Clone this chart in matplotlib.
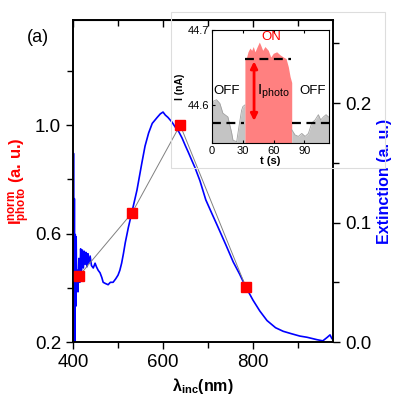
import matplotlib.pyplot as plt
from matplotlib.patches import Rectangle

plt.rcParams['font.family'] = 'Liberation Sans'
plt.rcParams['mathtext.fontset'] = 'custom'
plt.rcParams['mathtext.rm'] = 'Liberation Sans'
plt.rcParams['mathtext.bf'] = 'Liberation Sans:bold'

# extinction spectrum (right axis)
wl = [400, 401, 402, 403, 404, 405, 406, 407, 408, 410, 411, 413, 415, 417, 419,
      421, 423, 425, 427, 429, 431, 433, 435, 438, 441, 445, 449, 452, 456, 460,
      464, 467, 472, 478, 483, 489, 495, 500, 504, 508, 512, 516, 523, 531, 542,
      553, 560, 568, 576, 587, 594, 600, 605, 611, 620, 627, 635, 642, 650, 656,
      664, 671, 682, 695, 708, 720, 740, 756, 770, 784, 800, 815, 831, 850, 867,
      885, 904, 920, 942, 955, 965, 971, 975]
ext = [0.0, 0.158, 0.02, 0.12, 0.0, 0.09, 0.03, 0.088, 0.045, 0.06, 0.042, 0.07, 0.05, 0.078, 0.06,
       0.077, 0.062, 0.076, 0.065, 0.075, 0.063, 0.074, 0.066, 0.072, 0.064, 0.062, 0.066, 0.063, 0.060, 0.058,
       0.054, 0.050, 0.049, 0.048, 0.050, 0.050, 0.053, 0.056, 0.060, 0.066, 0.074, 0.083, 0.096, 0.109, 0.127,
       0.150, 0.164, 0.175, 0.183, 0.188, 0.191, 0.1925, 0.190, 0.188, 0.184, 0.180, 0.176, 0.171, 0.164, 0.159,
       0.152, 0.146, 0.135, 0.119, 0.108, 0.098, 0.081, 0.067, 0.057, 0.046, 0.035, 0.026, 0.018, 0.012, 0.009,
       0.007, 0.005, 0.004, 0.002, 0.001, 0.004, 0.006, 0.003]

# normalised photocurrent (left axis)
wl_pts = [413, 531, 638, 784]
iphoto = [0.443, 0.676, 1.0, 0.403]

# inset time trace
t_off1 = [0, 4.5, 7.8, 10.7, 15.6, 19.2, 20.5, 24.1, 26.3, 28.9, 30.2, 32.1]
i_off1 = [44.604, 44.607, 44.602, 44.589, 44.584, 44.563, 44.553, 44.551, 44.571, 44.593, 44.598, 44.600]
t_on = [32.1, 33.8, 35.1, 37, 38.7, 40.2, 41.9, 44.1, 46.1, 47.4, 49.4, 51.6, 54.8, 57.2,
        59.7, 63, 66.2, 69.4, 72.1, 74.3, 76, 77.6]
i_on = [44.662, 44.664, 44.671, 44.676, 44.673, 44.678, 44.671, 44.678, 44.684, 44.680, 44.673, 44.678,
        44.673, 44.664, 44.669, 44.671, 44.667, 44.664, 44.662, 44.651, 44.638, 44.630]
t_off2 = [77.6, 80.8, 84, 87.4, 90.6, 93.8, 97.1, 100.3, 103.5, 105.8, 108.4, 111, 113.3, 114]
i_off2 = [44.567, 44.560, 44.558, 44.562, 44.558, 44.562, 44.576, 44.580, 44.587, 44.580, 44.584, 44.587,
          44.584, 44.584]
level_off = 44.576
level_on = 44.661

fig = plt.figure(figsize=(3.99, 4.01), dpi=100)
ax = fig.add_axes([0.183, 0.147, 0.652, 0.803])
ax2 = ax.twinx()

ax2.plot(wl, ext, color='#0000ff', lw=1.2)
ax.plot(wl_pts, iphoto, color='gray', lw=0.7, zorder=3)
ax.plot(wl_pts, iphoto, 's', color='#ff0000', ms=7, zorder=4)
ax.set_zorder(ax2.get_zorder() + 1)
ax.patch.set_visible(False)

ax.set_xlim(400, 978)
ax.set_ylim(0.2, 1.387)
ax2.set_ylim(0, 0.2695)
ax.set_xticks([400, 600, 800])
ax.set_xticks([500, 700, 900], minor=True)
ax.set_yticks([0.2, 0.6, 1.0])
ax.set_yticks([0.4, 0.8, 1.2], minor=True)
ax2.set_yticks([0.0, 0.1, 0.2])
ax2.set_yticks([0.05, 0.15, 0.25], minor=True)
ax.set_yticklabels(['0.2', '0.6', '1.0'])
ax2.set_yticklabels(['0.0', '0.1', '0.2'])
ax.tick_params(axis='both', which='both', direction='out', labelsize=13.5, width=1)
ax.tick_params(which='major', length=5)
ax.tick_params(which='minor', length=4)
ax2.tick_params(axis='y', which='both', direction='out', labelsize=13.5, width=1)
ax2.tick_params(which='major', length=5)
ax2.tick_params(which='minor', length=4)
for a in (ax, ax2):
    for s in a.spines.values():
        s.set_linewidth(1.2)

# top axis ticks point inward
top = ax.secondary_xaxis('top')
top.set_xticks([400, 600, 800])
top.set_xticks([500, 700, 900], minor=True)
top.tick_params(which='both', direction='in', labeltop=False, width=1)
top.tick_params(which='major', length=5)
top.tick_params(which='minor', length=4)

ax.set_xlabel(r'$\mathbf{\lambda}_{\mathbf{inc}}$(nm)', fontsize=11.5, fontweight='bold', labelpad=4)
ax.set_ylabel(r'$\mathbf{I^{norm}_{photo}}$ (a. u.)', fontsize=12, fontweight='bold',
              color='#ff0000', labelpad=2)
ax2.set_ylabel('Extinction (a. u.)', fontsize=11.5, fontweight='bold', color='#0000ff', labelpad=4)
fig.text(0.068, 0.895, '(a)', fontsize=13)

# light frame around inset
fig.patches.append(Rectangle((171 / 399, 1 - 168 / 401), 214 / 399, 156 / 401,
                             transform=fig.transFigure, fill=False, ec='#dddddd', lw=0.8))

ins = fig.add_axes([0.531, 0.643, 0.294, 0.282])
ins.fill_between(t_off1, 44.54, i_off1, color='#c4c4c4', lw=0)
ins.plot(t_off1, i_off1, color='#a0a0a0', lw=0.6)
ins.fill_between(t_on, 44.54, i_on, color='#ff8080', lw=0)
ins.fill_between(t_off2, 44.54, i_off2, color='#c4c4c4', lw=0)
ins.plot(t_off2, i_off2, color='#a0a0a0', lw=0.6)
ins.plot([0, 31], [level_off, level_off], 'k--', lw=1.6, dashes=(4, 2.5))
ins.plot([78, 114], [level_off, level_off], 'k--', lw=1.6, dashes=(4, 2.5))
ins.plot([32, 77], [level_on, level_on], 'k--', lw=1.6, dashes=(4, 2.5))
ins.annotate('', xy=(41, level_off - 0.001), xytext=(41, level_on + 0.001),
             arrowprops=dict(arrowstyle='<|-|>', color='#ff0000', lw=2, mutation_scale=10))
ins.text(44, 44.618, r'$\mathrm{I_{photo}}$', fontsize=11, va='center')
ins.text(58, 44.691, 'ON', color='#ff0000', fontsize=9.5, ha='center', va='center')
ins.text(14, 44.618, 'OFF', fontsize=9.5, ha='center', va='center')
ins.text(98, 44.618, 'OFF', fontsize=9.5, ha='center', va='center')
ins.set_xlim(0, 114)
ins.set_ylim(44.549, 44.7)
ins.set_xticks([0, 30, 60, 90])
ins.set_yticks([44.6, 44.7])
ins.tick_params(direction='in', labelsize=8, length=2.5, width=0.8, pad=2, top=True)
for s in ins.spines.values():
    s.set_linewidth(0.8)
ins.set_xlabel('t (s)', fontsize=8, fontweight='bold', labelpad=0)
ins.set_ylabel('I (nA)', fontsize=7.5, fontweight='bold', labelpad=2)

fig.savefig('out.png', dpi=100)
